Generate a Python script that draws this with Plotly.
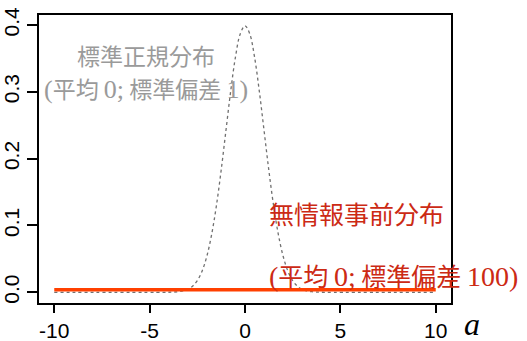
import plotly.graph_objects as go

# standard normal density (mean 0, sd 1)
norm_x = [-10, -4.0, -3.75, -3.5, -3.25, -3.0, -2.75, -2.5, -2.25, -2.0, -1.75, -1.5, -1.25, -1.0,
          -0.75, -0.5, -0.25, 0.0, 0.25, 0.5, 0.75, 1.0, 1.25, 1.5, 1.75, 2.0, 2.25, 2.5,
          2.75, 3.0, 3.25, 3.5, 3.75, 4.0, 10]
norm_y = [0.0, 0.0001, 0.0004, 0.0009, 0.0020, 0.0044, 0.0091, 0.0175, 0.0317, 0.0540, 0.0863,
          0.1295, 0.1826, 0.2420, 0.3011, 0.3521, 0.3867, 0.3989, 0.3867, 0.3521, 0.3011,
          0.2420, 0.1826, 0.1295, 0.0863, 0.0540, 0.0317, 0.0175, 0.0091, 0.0044, 0.0020,
          0.0009, 0.0004, 0.0001, 0.0]

# non-informative prior (mean 0, sd 100)
flat_x = [-10, 10]
flat_y = [0.004, 0.004]

x_ticks = [-10, -5, 0, 5, 10]
x_tick_labels = ["-10", "-5", "0", "5", "10"]
y_ticks = [0.0, 0.1, 0.2, 0.3, 0.4]
y_tick_labels = ["0.0", "0.1", "0.2", "0.3", "0.4"]

GRAY_TXT = "#9a9a9a"
RED_TXT = "#cc2a14"
RED_LINE = "#ff4000"
CJK = "Noto Sans CJK JP"
SERIF = "Liberation Serif"

W, H = 527, 341
BOX_L, BOX_T, BOX_R, BOX_B = 39, 15, 451, 303  # plot box in page pixels
L, T, R, B = BOX_L, BOX_T, W - BOX_R, H - BOX_B


def s(t, size):
    return "<span style=\"font-family:'%s';font-size:%dpx\">%s</span>" % (SERIF, size, t)


fig = go.Figure()
fig.add_trace(go.Scatter(x=norm_x, y=norm_y, mode="lines",
                         line=dict(color="#707070", width=1.3, dash="dot", shape="spline"),
                         hoverinfo="skip", showlegend=False))
fig.add_trace(go.Scatter(x=flat_x, y=flat_y, mode="lines",
                         line=dict(color=RED_LINE, width=3.5),
                         hoverinfo="skip", showlegend=False))

ann = [
    dict(x=-5.2, y=0.355, text="標準正規分布", font=dict(family=CJK, size=23, color=GRAY_TXT),
         xanchor="center", yanchor="middle", xref="x", yref="y"),
    dict(x=-5.2, y=0.306,
         text=s("(", 26) + "平均 " + s("0;", 26) + " 標準偏差 " + s("1)", 26),
         font=dict(family=CJK, size=23, color=GRAY_TXT), xanchor="center", yanchor="middle",
         xref="x", yref="y"),
    dict(x=1.15, y=0.119, text="無情報事前分布", font=dict(family=CJK, size=25, color=RED_TXT),
         xanchor="left", yanchor="middle", xref="x", yref="y"),
    dict(x=1.15, y=0.026,
         text=s("(", 28) + "平均 " + s("0;", 28) + " 標準偏差 " + s("100)", 28),
         font=dict(family=CJK, size=25, color=RED_TXT), xanchor="left", yanchor="middle",
         xref="x", yref="y"),
    dict(x=(472 - L) / (W - L - R), y=(H - B - 324) / (H - T - B),
         text="<i>a</i>", font=dict(family=SERIF, size=32, color="black"),
         xanchor="center", yanchor="middle", xref="paper", yref="paper"),
]
for a in ann:
    a.update(showarrow=False)

fig.update_layout(
    width=W, height=H,
    margin=dict(l=L, r=R, t=T, b=B),
    paper_bgcolor="white", plot_bgcolor="white",
    annotations=ann,
    xaxis=dict(range=[-10.8, 10.8], tickvals=x_ticks, ticktext=x_tick_labels,
               showgrid=False, zeroline=False, showline=True, mirror=True, automargin=False,
               linecolor="black", linewidth=1.5, ticks="outside", ticklen=8,
               tickwidth=1.5, tickcolor="black",
               tickfont=dict(family="Liberation Sans", size=21, color="black")),
    yaxis=dict(range=[-0.016, 0.415], tickvals=y_ticks, ticktext=y_tick_labels,
               showgrid=False, zeroline=False, showline=True, mirror=True, automargin=False,
               linecolor="black", linewidth=1.5, ticks="outside", ticklen=10,
               tickwidth=1.5, tickcolor="black", tickangle=-90,
               tickfont=dict(family="Liberation Sans", size=21, color="black")),
)

fig.write_html("out.html", config={"displayModeBar": False},
               post_script="document.body.style.margin='0';document.body.style.padding='0';"
                           "document.documentElement.style.overflow='hidden';")
